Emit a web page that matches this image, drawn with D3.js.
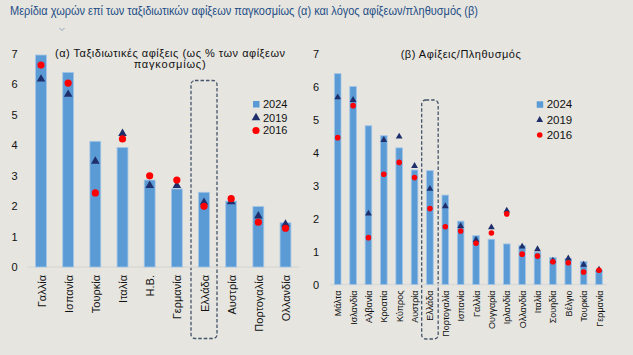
<!DOCTYPE html>
<html><head><meta charset="utf-8">
<script src="https://cdn.jsdelivr.net/npm/d3@7"></script>
<style>
html,body{margin:0;padding:0;background:#E6E5E0;}
svg{display:block;font-family:"Liberation Sans",Arial,sans-serif;}
</style></head>
<body>
<svg id="c" width="633" height="355"></svg>
<script>
const title = "Μερίδια χωρών επί των ταξιδιωτικών αφίξεων παγκοσμίως (α) και λόγος αφίξεων/πληθυσμός (β)";
const titleA = ["(α) Ταξιδιωτικές αφίξεις (ως % των αφίξεων", "παγκοσμίως)"];
const titleB = "(β) Αφίξεις/Πληθυσμός";
const seriesNames = ["2024", "2019", "2016"];
const yTicks = [0, 1, 2, 3, 4, 5, 6, 7];

const catsA = ["Γαλλία","Ισπανία","Τουρκία","Ιταλία","Η.Β.","Γερμανία","Ελλάδα","Αυστρία","Πορτογαλία","Ολλανδία"];
const a2024 = [6.95, 6.38, 4.12, 3.92, 2.85, 2.56, 2.45, 2.16, 1.98, 1.45];
const a2019 = [6.16, 5.66, 3.47, 4.38, 2.67, 2.67, 2.12, 2.14, 1.67, 1.40];
const a2016 = [6.62, 6.03, 2.43, 4.20, 2.99, 2.85, 1.99, 2.24, 1.47, 1.27];

const catsB = ["Μάλτα","Ισλανδία","Αλβανία","Κροατία","Κύπρος","Αυστρία","Ελλάδα","Πορτογαλία","Ισπανία","Γαλλία","Ουγγαρία","Ιρλανδία","Ολλανδία","Ιταλία","Σουηδία","Βέλγιο","Τουρκία","Γερμανία"];
const b2024 = [6.39, 6.00, 4.81, 4.51, 4.14, 3.47, 3.45, 2.71, 1.92, 1.48, 1.37, 1.23, 1.18, 0.98, 0.82, 0.79, 0.70, 0.44];
const b2019 = [5.67, 5.59, 2.15, 4.38, 4.48, 3.59, 2.90, 2.37, 1.77, 1.35, 1.73, 2.24, 1.15, 1.07, 0.72, 0.79, 0.60, 0.45];
const b2016 = [4.45, 5.42, 1.42, 3.34, 3.70, 3.24, 2.30, 1.75, 1.62, 1.25, 1.56, 2.14, 0.92, 0.86, 0.69, 0.66, 0.38, 0.43];
const highlight = "Ελλάδα";

const C = {bar:"#5B9BD5", barStroke:"#A3C5E8", tri:"#1F2F6B", dot:"#FF0000", text:"#111", title:"#1F4E86", box:"#44546A", axis:"#DADAD6"};

const svg = d3.select("#c");

// main title
svg.append("text").attr("x", 10).attr("y", 14.5).attr("font-size", 12.5).attr("fill", C.title)
  .attr("textLength", 468).attr("lengthAdjust", "spacingAndGlyphs").text(title);
svg.append("path").attr("d", "M59.5,28 L62,30.5 L64.5,28").attr("fill", "none").attr("stroke", "#8FA3BF").attr("stroke-width", 1);

function panel(cfg) {
  const g = svg.append("g");
  const y = d3.scaleLinear().domain([0, 7]).range([cfg.y0, cfg.y7]);
  const x = d3.scalePoint().domain(cfg.cats).range(cfg.xr);
  const bw = x.step() * cfg.bwf;

  const ya = g.append("g").attr("transform", `translate(${cfg.yLabX},0)`)
    .call(d3.axisLeft(y).tickValues(yTicks).tickSize(0).tickPadding(0).tickFormat(d3.format("d")));
  ya.select(".domain").remove();
  ya.selectAll("text").attr("font-size", 11).attr("fill", C.text).attr("font-family", "Liberation Sans, Arial, sans-serif");

  const hx = x(highlight);
  g.append("rect").attr("x", hx - cfg.boxW / 2).attr("y", cfg.boxTop).attr("width", cfg.boxW)
    .attr("height", cfg.boxBottom - cfg.boxTop).attr("rx", 4).attr("ry", 4)
    .attr("fill", "none").attr("stroke", C.box).attr("stroke-width", 1.3).attr("stroke-dasharray", "3.5,2");

  g.append("line").attr("x1", cfg.xr[0] - x.step() / 2).attr("x2", cfg.xr[1] + x.step() / 2)
    .attr("y1", y(0)).attr("y2", y(0)).attr("stroke", C.axis).attr("stroke-width", 1.5);

  g.selectAll(".bar").data(cfg.cats).join("rect")
    .attr("x", d => x(d) - bw / 2).attr("width", bw)
    .attr("y", (d, i) => y(cfg.v24[i])).attr("height", (d, i) => y(0) - y(cfg.v24[i]))
    .attr("fill", C.bar).attr("stroke", C.barStroke).attr("stroke-width", 0.8);

  const tri = d3.symbol().type(d3.symbolTriangle).size(cfg.triSize);
  g.selectAll(".tri").data(cfg.cats).join("path")
    .attr("d", tri).attr("fill", C.tri)
    .attr("transform", (d, i) => `translate(${x(d)},${y(cfg.v19[i])})`);
  g.selectAll(".dot").data(cfg.cats).join("circle")
    .attr("cx", d => x(d)).attr("cy", (d, i) => y(cfg.v16[i])).attr("r", cfg.r).attr("fill", C.dot);

  const xa = g.append("g").attr("transform", `translate(0,${y(0)})`)
    .call(d3.axisBottom(x).tickSize(0).tickPadding(0));
  xa.select(".domain").remove();
  xa.selectAll("text").attr("font-size", cfg.xFont).attr("fill", C.text)
    .attr("font-family", "Liberation Sans, Arial, sans-serif")
    .attr("text-anchor", "end").attr("dy", null).attr("y", 0)
    .attr("transform", `translate(${cfg.xLabShift},${cfg.xLabGap}) rotate(-90)`)
    .attr("dominant-baseline", "central");

  cfg.legY.forEach((ly, i) => {
    if (i === 0) g.append("rect").attr("x", cfg.legX - 3).attr("y", ly - 3).attr("width", 6.5).attr("height", 6.5).attr("fill", C.bar);
    if (i === 1) g.append("path").attr("d", d3.symbol().type(d3.symbolTriangle).size(cfg.triSize)).attr("fill", C.tri).attr("transform", `translate(${cfg.legX},${ly})`);
    if (i === 2) g.append("circle").attr("cx", cfg.legX).attr("cy", ly).attr("r", cfg.r).attr("fill", C.dot);
    g.append("text").attr("x", cfg.legX + 7).attr("y", ly).attr("dy", "0.36em").attr("font-size", cfg.legFont).attr("fill", C.text).text(seriesNames[i]);
  });
  return g;
}

const gA = panel({cats: catsA, v24: a2024, v19: a2019, v16: a2016,
  y0: 267, y7: 53.5, xr: [41, 285.5], bwf: 0.4, yLabX: 17.5,
  boxW: 26, boxTop: 80.5, boxBottom: 338.5, triSize: 32, r: 3.6, xFont: 11, xLabGap: 8, xLabShift: 0,
  legX: 256, legY: [104, 117.7, 130.5], legFont: 11});
gA.append("text").attr("x", 55).attr("y", 56.5).attr("font-size", 11).attr("fill", C.text)
  .attr("textLength", 230).attr("lengthAdjust", "spacing").text(titleA[0]);
gA.append("text").attr("x", 170).attr("y", 68).attr("font-size", 11).attr("fill", C.text)
  .attr("text-anchor", "middle").attr("letter-spacing", 0.8).text(titleA[1]);

const gB = panel({cats: catsB, v24: b2024, v19: b2019, v16: b2016,
  y0: 284.5, y7: 53.5, xr: [337.7, 599], bwf: 0.43, yLabX: 319,
  boxW: 16.5, boxTop: 100, boxBottom: 339, triSize: 20, r: 2.8, xFont: 9, xLabGap: 6, xLabShift: 0,
  legX: 539.7, legY: [104.3, 120, 135], legFont: 11.5});
gB.append("text").attr("x", 400.7).attr("y", 57.5).attr("font-size", 11).attr("fill", C.text)
  .attr("textLength", 120).attr("lengthAdjust", "spacing").text(titleB);
</script>
</body></html>
